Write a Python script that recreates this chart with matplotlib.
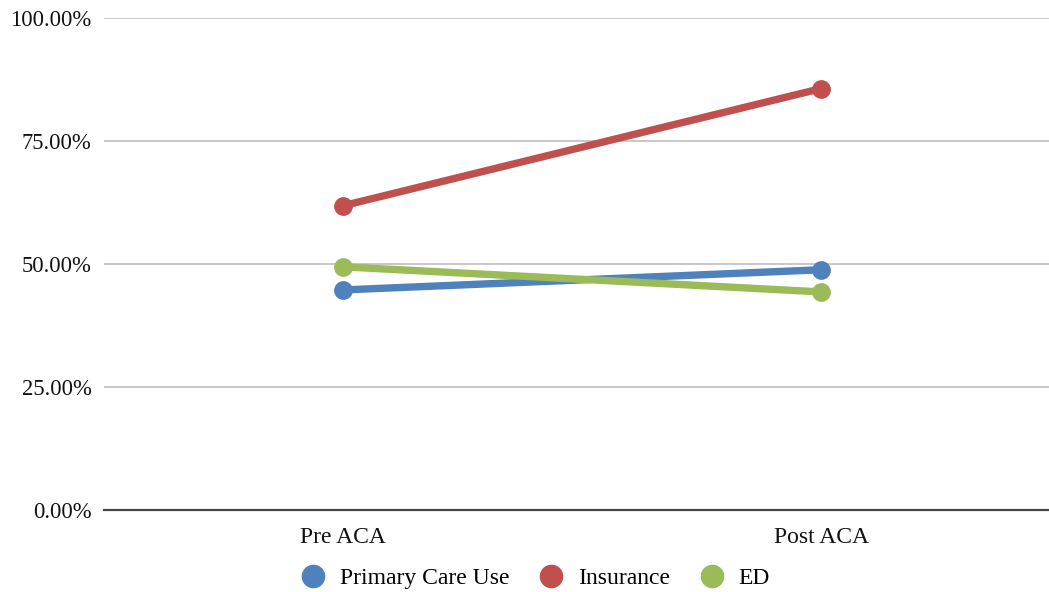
import matplotlib
matplotlib.use("Agg")
import matplotlib.pyplot as plt
from matplotlib.lines import Line2D
from matplotlib.ticker import FuncFormatter

plt.rcParams['font.family'] = ['Liberation Serif', 'DejaVu Serif']

periods = ["Pre ACA", "Post ACA"]
primary_care = [44.7, 48.8]
insurance = [61.8, 85.6]
ed = [49.4, 44.3]

series = [
    ("Primary Care Use", primary_care, "#4f81bd"),
    ("Insurance", insurance, "#c0504d"),
    ("ED", ed, "#9bbb59"),
]

W, H = 1049, 592
fig = plt.figure(figsize=(W / 100, H / 100), dpi=100)
ax = fig.add_axes([104 / W, 1 - 510 / H, 1 - 104 / W, (510 - 17.7) / H])

x = list(range(len(periods)))
for name, vals, color in series:
    ax.plot(x, vals, color=color, lw=5.3, marker="o", markersize=12.5,
            solid_capstyle="round", label=name, zorder=3)

ax.set_ylim(0, 100)
ax.set_xlim(-0.5, 1 + (W - 821) / 478)
ax.set_yticks([0, 25, 50, 75, 100])
ax.yaxis.set_major_formatter(FuncFormatter(lambda v, p: f"{v:.2f}%"))
ax.set_xticks(x)
ax.set_xticklabels(periods)
ax.tick_params(axis="both", length=0, colors="#111111")
ax.tick_params(axis="y", pad=9, labelsize=16.3)
ax.tick_params(axis="x", pad=12, labelsize=17)
ax.grid(axis="y", color="#c8c8c8", lw=1.4)
ax.set_axisbelow(True)
for s in ["top", "right", "left"]:
    ax.spines[s].set_visible(False)
ax.spines["bottom"].set_color("#444444")
ax.spines["bottom"].set_linewidth(1.6)
ax.spines["bottom"].set_zorder(2)

handles = [Line2D([], [], ls="none", marker="o", markersize=16, color=c) for _, _, c in series]
fig.legend(handles, [n for n, _, _ in series], loc="center", ncol=3,
           bbox_to_anchor=(0.5 + 10 / W, 1 - 578 / H), frameon=False, fontsize=17,
           handletextpad=0.55, columnspacing=1.15, handlelength=1.2)

fig.savefig("out.png", dpi=100)
